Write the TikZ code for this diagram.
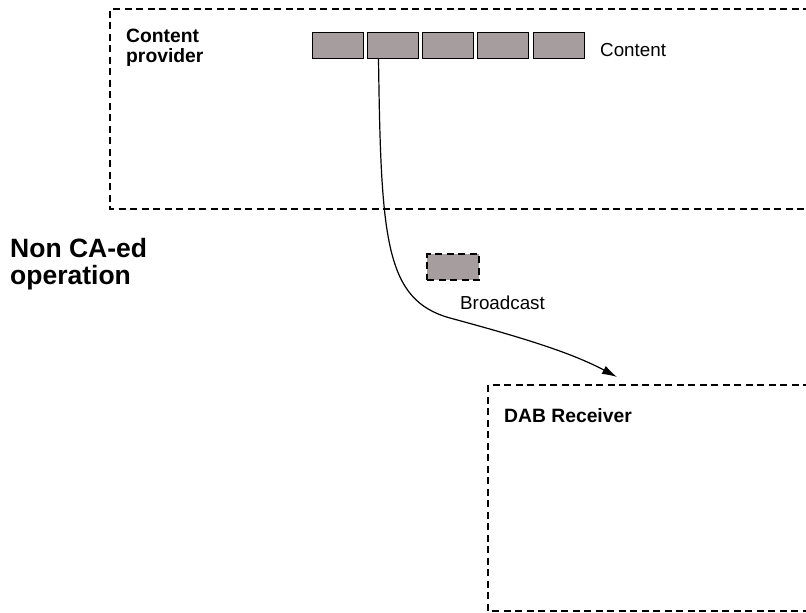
\documentclass[tikz,border=0pt]{standalone}
\usepackage{fontspec}
\setmainfont{Liberation Sans}
\usetikzlibrary{arrows.meta}
\definecolor{cellgrey}{RGB}{166,158,158}
\begin{document}
\begin{tikzpicture}[x=1pt,y=-1pt,
  frame/.style={draw=black,line width=1.2pt,dash pattern=on 7pt off 4.5pt},
  cell/.style={draw=black,line width=1pt,fill=cellgrey,minimum width=51pt,minimum height=26pt,inner sep=0pt},
  label/.style={font=\fontsize{18.8}{20}\selectfont,inner sep=0pt,anchor=base west,align=left},
  title/.style={label,font=\fontsize{19.3}{20}\selectfont\bfseries},
  flow/.style={line width=1.2pt,-{Latex[length=15pt,width=9pt]}}]
\useasboundingbox (0,0) rectangle (806,613);

% Content provider frame (open to the right)
\draw[frame] (810,9) -- (110,9) -- (110,209) -- (810,209);
% multi-line labels are placed by the baseline of their last line
\node[title] (prov) at (126,62) {Content\\provider};

% content cells
\node[cell] (c1) at (337.5,45) {};
\node[cell] (c2) at (392.5,45) {};
\node[cell] (c3) at (447.5,45) {};
\node[cell] (c4) at (502.5,45) {};
\node[cell] (c5) at (558.5,45) {};
\node[label] (content) at (600,56) {Content};

% operation mode
\node[label,font=\fontsize{26.5}{27}\selectfont\bfseries] (mode) at (10,284) {Non CA-ed\\operation};

% broadcast item
\node[cell,frame,fill=cellgrey,minimum width=52pt,minimum height=26pt] (bc) at (453,267) {};
\node[label] (bclabel) at (460,309) {Broadcast};

% DAB receiver frame (open to the right)
\draw[frame] (810,385) -- (488,385) -- (488,611) -- (810,611);
\node[title] (dab) at (504,422) {DAB Receiver};

% delivery path
\coordinate (rx) at (617,377);
\draw[flow] ([xshift=-14pt]c2.south) .. controls (381,240) and (385,300) .. (450,318)
  .. controls (520,337) and (570,352) .. (rx);
\end{tikzpicture}
\end{document}
